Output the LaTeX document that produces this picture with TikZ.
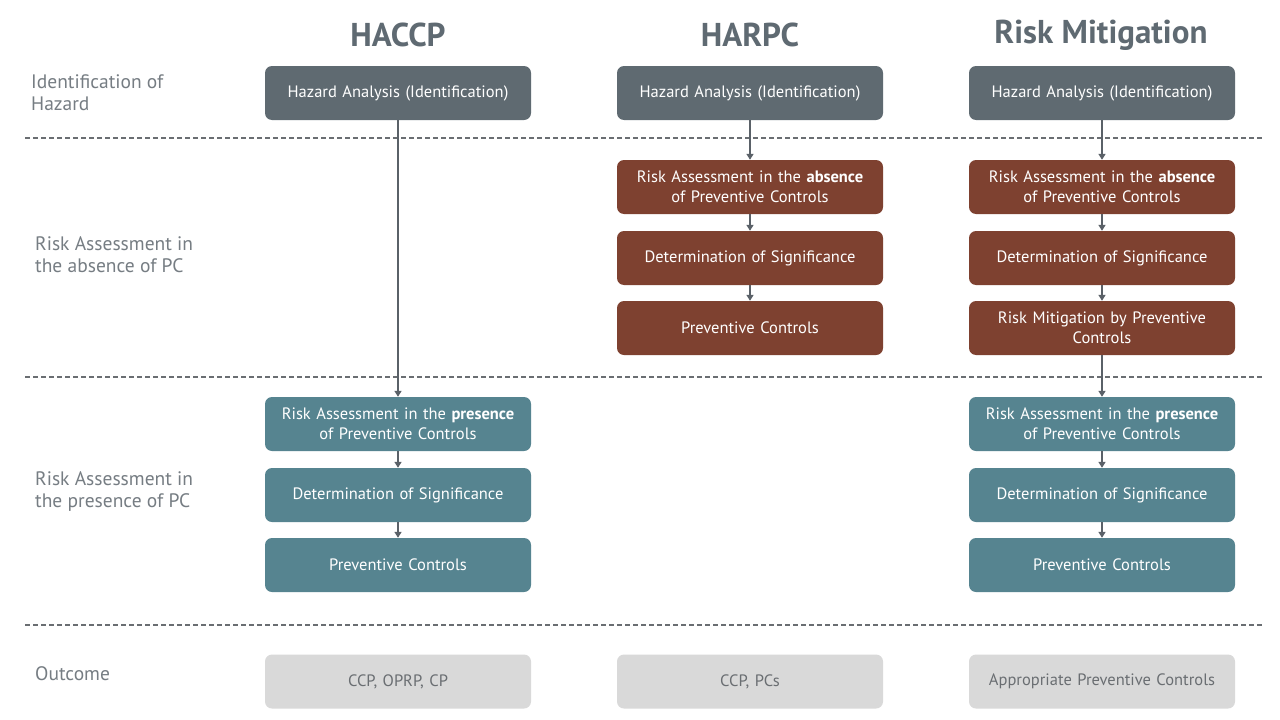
\documentclass[tikz,border=0pt]{standalone}
\usepackage{fontspec}
\setmainfont{PT Sans}
\usetikzlibrary{arrows.meta}
\definecolor{hdr}{HTML}{5F6A72}
\definecolor{lbl}{HTML}{767D83}
\definecolor{gbox}{HTML}{5F6A71}
\definecolor{bbox}{HTML}{7E4130}
\definecolor{tbox}{HTML}{568490}
\definecolor{obox}{HTML}{D9D9D9}
\definecolor{otext}{HTML}{6A6E72}
\definecolor{arr}{HTML}{5A6168}
\definecolor{sepcol}{HTML}{6A6E72}
\tikzset{
  box/.style={rounded corners=7pt, minimum width=266pt, minimum height=54pt, text width=260pt, align=center, font=\fontsize{16.5}{20}\selectfont, text=white, inner sep=0pt},
  gb/.style={box, fill=gbox},
  bb/.style={box, fill=bbox},
  tb/.style={box, fill=tbox},
  ob/.style={box, fill=obox, text=otext},
  title/.style={font=\fontsize{33}{36}\selectfont\bfseries, text=hdr},
  side/.style={anchor=west, align=left, font=\fontsize{19.5}{22}\selectfont, text=lbl, inner sep=0pt},
  sepline/.style={draw=sepcol, line width=1.2pt, dash pattern=on 5pt off 3pt},
  link/.style={draw=arr, line width=2.2pt, -{Triangle[length=6pt,width=7pt]}},
}
\begin{document}
\begin{tikzpicture}[x=1pt,y=-1pt]
\useasboundingbox (0,0) rectangle (1280,720);
\fill[white] (0,0) rectangle (1280,720);
% titles
\node[title] (t1) at (398,35) {HACCP};
\node[title] (t2) at (750,35) {HARPC};
\node[title] (t3) at (1101,35) {Risk Mitigation};
% side labels
\node[side] (s1) at (31,93) {Identification of\\Hazard};
\node[side] (s2) at (35,255) {Risk Assessment in\\the absence of PC};
\node[side] (s3) at (35,492) {Risk Assessment in\\the presence of PC};
\node[side] (s4) at (35,674) {Outcome};
% separators
\coordinate (d1a) at (25,138); \coordinate (d1b) at (1262,138);
\coordinate (d2a) at (25,377); \coordinate (d2b) at (1262,377);
\coordinate (d3a) at (25,625); \coordinate (d3b) at (1262,625);
\draw[sepline] (d1a) -- (d1b);
\draw[sepline] (d2a) -- (d2b);
\draw[sepline] (d3a) -- (d3b);
% HACCP column
\node[gb] (a1) at (398,93) {Hazard Analysis (Identification)};
\node[tb] (a2) at (398,424) {Risk Assessment in the \textbf{presence}\\of Preventive Controls};
\node[tb] (a3) at (398,495) {Determination of Significance};
\node[tb] (a4) at (398,565) {Preventive Controls};
\node[ob] (a5) at (398,681.5) {CCP, OPRP, CP};
% HARPC column
\node[gb] (b1) at (750,93) {Hazard Analysis (Identification)};
\node[bb] (b2) at (750,187) {Risk Assessment in the \textbf{absence}\\of Preventive Controls};
\node[bb] (b3) at (750,258) {Determination of Significance};
\node[bb] (b4) at (750,328) {Preventive Controls};
\node[ob] (b5) at (750,681.5) {CCP, PCs};
% Risk Mitigation column
\node[gb] (c1) at (1102,93) {Hazard Analysis (Identification)};
\node[bb] (c2) at (1102,187) {Risk Assessment in the \textbf{absence}\\of Preventive Controls};
\node[bb] (c3) at (1102,258) {Determination of Significance};
\node[bb] (c4) at (1102,328) {Risk Mitigation by Preventive\\Controls};
\node[tb] (c5) at (1102,424) {Risk Assessment in the \textbf{presence}\\of Preventive Controls};
\node[tb] (c6) at (1102,495) {Determination of Significance};
\node[tb] (c7) at (1102,565) {Preventive Controls};
\node[ob] (c8) at (1102,681.5) {Appropriate Preventive Controls};
% connectors
\draw[link] (a1) -- (a2);
\draw[link] (a2) -- (a3);
\draw[link] (a3) -- (a4);
\draw[link] (b1) -- (b2);
\draw[link] (b2) -- (b3);
\draw[link] (b3) -- (b4);
\draw[link] (c1) -- (c2);
\draw[link] (c2) -- (c3);
\draw[link] (c3) -- (c4);
\draw[link] (c4) -- (c5);
\draw[link] (c5) -- (c6);
\draw[link] (c6) -- (c7);
\end{tikzpicture}
\end{document}
